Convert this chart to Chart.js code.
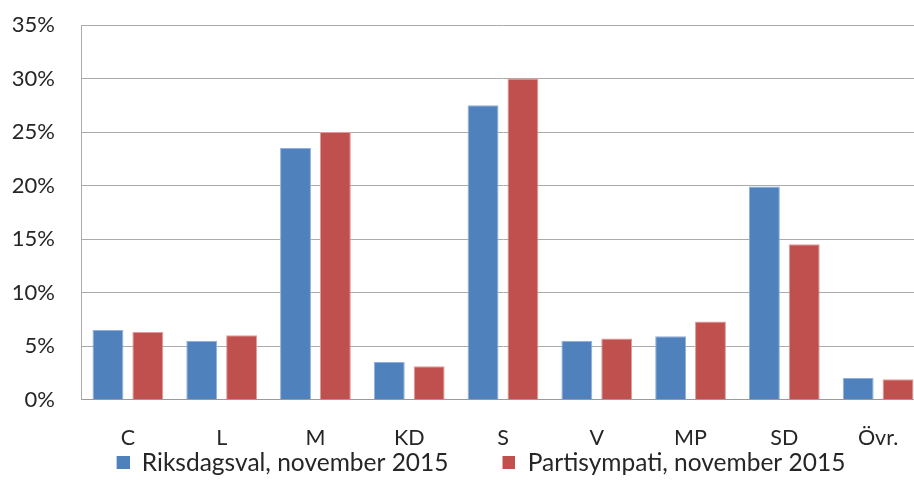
<!DOCTYPE html>
<html>
<head>
<meta charset="utf-8">
<script src="https://cdn.jsdelivr.net/npm/chart.js@4.4.1/dist/chart.umd.min.js"></script>
<style>
  html, body { margin: 0; padding: 0; background: #fff; overflow: hidden; }
  #wrap { position: relative; width: 925px; height: 504px; }
</style>
</head>
<body>
<div id="wrap"><canvas id="chart"></canvas></div>
<script>
const categories = ["C", "L", "M", "KD", "S", "V", "MP", "SD", "Övr."];
const riksdagsval = [6.5, 5.5, 23.5, 3.5, 27.5, 5.5, 5.9, 19.9, 2.0];
const partisympati = [6.3, 6.0, 25.0, 3.1, 30.0, 5.7, 7.3, 14.5, 1.9];
const seriesLabels = ["Riksdagsval, november 2015", "Partisympati, november 2015"];
const yMin = 0;
const yMax = 35;
const yStep = 5;

const COLORS = {
  blue: "#4F81BD",
  blueEdge: "#8FB0DA",
  red: "#C0504D",
  redEdge: "#E09A98",
  grid: "#ABABAB",
  axis: "#9A9A9A",
  text: "#262626",
};

const FONT = "Lato, 'Liberation Sans', Arial, sans-serif";

// legend swatch with empty space on its left, used as gap between items
function swatch(color) {
  const c = document.createElement("canvas");
  c.width = 62;
  c.height = 13;
  const ctx = c.getContext("2d");
  ctx.fillStyle = color;
  ctx.fillRect(49, 0, 13, 13);
  return c;
}

// the swatch gap pushes the legend right, pull it back a bit
const legendShift = {
  id: "legendShift",
  afterLayout(chart) {
    if (!chart.legend) return;
    chart.legend.left -= 12;
    chart.legend.right -= 12;
  },
};

new Chart(document.getElementById("chart"), {
  type: "bar",
  data: {
    labels: categories,
    datasets: [
      {
        label: seriesLabels[0],
        data: riksdagsval,
        backgroundColor: COLORS.blue,
        borderColor: COLORS.blueEdge,
        borderWidth: 1,
        pointStyle: swatch(COLORS.blue),
      },
      {
        label: seriesLabels[1],
        data: partisympati,
        backgroundColor: COLORS.red,
        borderColor: COLORS.redEdge,
        borderWidth: 1,
        pointStyle: swatch(COLORS.red),
      },
    ],
  },
  options: {
    responsive: true,
    maintainAspectRatio: false,
    animation: false,
    categoryPercentage: 0.85,
    barPercentage: 0.775,
    layout: { padding: { top: 0, left: 12, right: 0, bottom: 19 } },
    plugins: {
      tooltip: { enabled: false },
      legend: {
        position: "bottom",
        labels: {
          usePointStyle: true,
          pointStyleWidth: 62,
          padding: 5,
          color: COLORS.text,
          font: { family: FONT, size: 24.5 },
        },
      },
    },
    scales: {
      x: {
        grid: { display: false },
        border: { color: COLORS.axis, width: 1 },
        ticks: {
          color: COLORS.text,
          padding: 18,
          font: { family: FONT, size: 21.5 },
        },
        afterFit: (scale) => { scale.height = 46; },
      },
      y: {
        min: yMin,
        max: yMax,
        grid: { color: COLORS.grid, drawTicks: false },
        border: { color: COLORS.grid, width: 1 },
        ticks: {
          stepSize: yStep,
          color: COLORS.text,
          padding: 26,
          font: { family: FONT, size: 22 },
          callback: (v) => v + "%",
        },
        afterFit: (scale) => {
          scale.width = 69;
          scale.paddingTop = 25;
          scale.paddingBottom = 0;
        },
      },
    },
  },
  plugins: [legendShift],
});
</script>
</body>
</html>
